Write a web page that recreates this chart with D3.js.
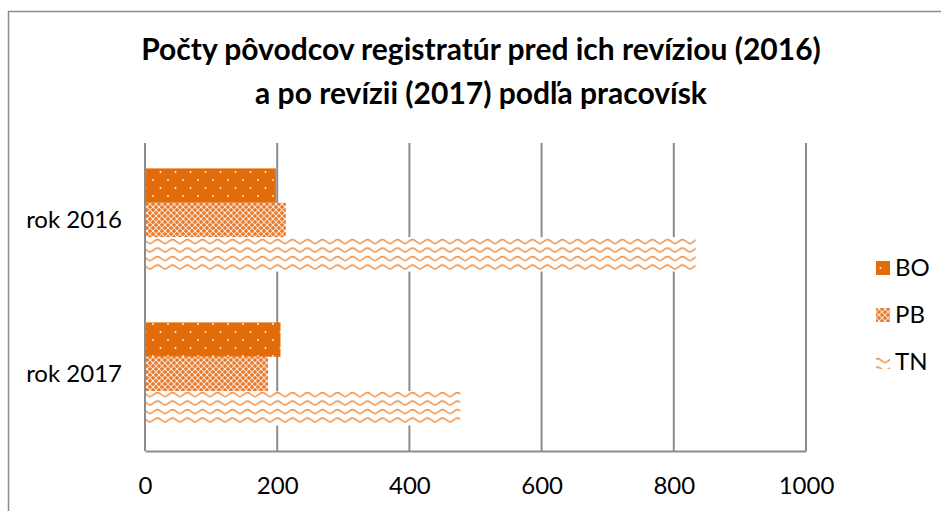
<!DOCTYPE html>
<html>
<head>
<meta charset="utf-8">
<script src="https://cdn.jsdelivr.net/npm/d3@7"></script>
<style>
  html, body { margin: 0; padding: 0; background: #fff; }
  svg { display: block; font-family: Lato, "Open Sans", sans-serif; }
</style>
</head>
<body>
<div id="chart"></div>
<script>
// Data
const titleLines = ['Počty pôvodcov registratúr pred ich revíziou (2016)', 'a po revízii (2017) podľa pracovísk'];
const categories = ['rok 2016', 'rok 2017'];
const seriesNames = ['BO', 'PB', 'TN'];
const valuesBO = [198, 205];
const valuesPB = [213, 186];
const valuesTN = [833, 477];
const xTicks = [0, 200, 400, 600, 800, 1000];

const width = 941, height = 511;
const orange = '#e36c0a';

const svg = d3.select('#chart').append('svg')
    .attr('width', width)
    .attr('height', height);

// Patterns
const defs = svg.append('defs');

// BO: solid orange with small white dots
const pBO = defs.append('pattern')
    .attr('id', 'pat-BO')
    .attr('patternUnits', 'userSpaceOnUse')
    .attr('width', 15).attr('height', 16);
pBO.append('rect').attr('width', 15).attr('height', 16).attr('fill', orange);
[[3, 4], [10.5, 12]].forEach(([cx, cy]) => {
    pBO.append('circle').attr('cx', cx).attr('cy', cy).attr('r', 1).attr('fill', '#fff').attr('opacity', 0.85);
});

// PB: orange with white diagonal lattice
const pPB = defs.append('pattern')
    .attr('id', 'pat-PB')
    .attr('patternUnits', 'userSpaceOnUse')
    .attr('width', 6).attr('height', 6);
pPB.append('rect').attr('width', 6).attr('height', 6).attr('fill', '#e8782a');
pPB.append('path')
    .attr('d', 'M0,0 L6,6 M6,0 L0,6 M-3,3 L3,-3 M3,9 L9,3 M-3,3 L3,9 M3,-3 L9,3')
    .attr('stroke', '#fbe0cc')
    .attr('stroke-width', 1.1);
pPB.append('circle').attr('cx', 3).attr('cy', 3).attr('r', 0.8).attr('fill', '#fff');

// TN: orange waves on white
const pTN = defs.append('pattern')
    .attr('id', 'pat-TN')
    .attr('patternUnits', 'userSpaceOnUse')
    .attr('width', 15).attr('height', 8.5);
pTN.append('rect').attr('width', 15).attr('height', 8.5).attr('fill', '#fff');
pTN.append('path')
    .attr('d', 'M0,5.5 C2.5,5.5 5,1.5 7.5,1.5 C10,1.5 12.5,5.5 15,5.5')
    .attr('fill', 'none')
    .attr('stroke', '#f0934a')
    .attr('stroke-width', 1.6);

const patterns = { BO: 'url(#pat-BO)', PB: 'url(#pat-PB)', TN: 'url(#pat-TN)' };

// Outer frame
svg.append('rect')
    .attr('x', 8.5).attr('y', 11.5)
    .attr('width', 1000).attr('height', 600)
    .attr('fill', 'none')
    .attr('stroke', '#8c8c8c')
    .attr('stroke-width', 1.5);

// Title
const title = svg.append('text')
    .attr('text-anchor', 'middle')
    .attr('font-weight', 'bold')
    .attr('font-size', 30)
    .attr('fill', '#000');
titleLines.forEach((t, i) => {
    title.append('tspan').attr('x', 481).attr('y', 60 + i * 44).text(t);
});

// Scales
const plot = { left: 145, right: 806, top: 143, bottom: 451 };
const x = d3.scaleLinear().domain([0, 1000]).range([plot.left, plot.right]);
const y = d3.scaleBand().domain(categories).range([plot.top, plot.bottom])
    .paddingInner(0.33).paddingOuter(0.165);
const ySub = d3.scaleBand().domain(seriesNames).range([0, y.bandwidth()]);

// Gridlines
svg.append('g')
    .selectAll('line')
    .data(xTicks.slice(1))
    .join('line')
    .attr('x1', d => x(d)).attr('x2', d => x(d))
    .attr('y1', plot.top).attr('y2', plot.bottom)
    .attr('stroke', '#8c8c8c')
    .attr('stroke-width', 2);

// Bars
const seriesData = seriesNames.map((name, si) => ({
    name,
    values: [valuesBO, valuesPB, valuesTN][si]
}));

const barG = svg.append('g');
seriesData.forEach(s => {
    barG.selectAll(null)
        .data(categories.map((c, i) => ({ cat: c, v: s.values[i] })))
        .join('rect')
        .attr('x', x(0))
        .attr('y', d => y(d.cat) + ySub(s.name))
        .attr('width', d => x(d.v) - x(0))
        .attr('height', ySub.bandwidth())
        .attr('fill', patterns[s.name]);
});

// Axes lines
svg.append('line')
    .attr('x1', plot.left).attr('x2', plot.left)
    .attr('y1', plot.top).attr('y2', plot.bottom)
    .attr('stroke', '#8c8c8c').attr('stroke-width', 2);

const xAxis = svg.append('g')
    .attr('transform', `translate(0,${plot.bottom})`)
    .call(d3.axisBottom(x).tickValues(xTicks).tickFormat(d3.format('d')).tickSize(0).tickPadding(26));
xAxis.select('.domain').attr('stroke', '#8c8c8c').attr('stroke-width', 2);
xAxis.selectAll('text')
    .attr('font-family', 'Lato, sans-serif')
    .attr('font-size', 24)
    .attr('fill', '#000');

// Category labels
svg.append('g')
    .selectAll('text')
    .data(categories)
    .join('text')
    .attr('x', 122)
    .attr('y', d => y(d) + y.bandwidth() / 2)
    .attr('dy', '0.35em')
    .attr('text-anchor', 'end')
    .attr('font-size', 24)
    .attr('fill', '#000')
    .text(d => d);

// Legend
const legend = svg.append('g');
seriesNames.forEach((name, i) => {
    const ly = 268 + i * 47;
    legend.append('rect')
        .attr('x', 876).attr('y', ly - 7)
        .attr('width', 14).attr('height', 14)
        .attr('fill', patterns[name]);
    legend.append('text')
        .attr('x', 895).attr('y', ly)
        .attr('dy', '0.35em')
        .attr('font-size', 24)
        .attr('fill', '#000')
        .text(name);
});
</script>
</body>
</html>
